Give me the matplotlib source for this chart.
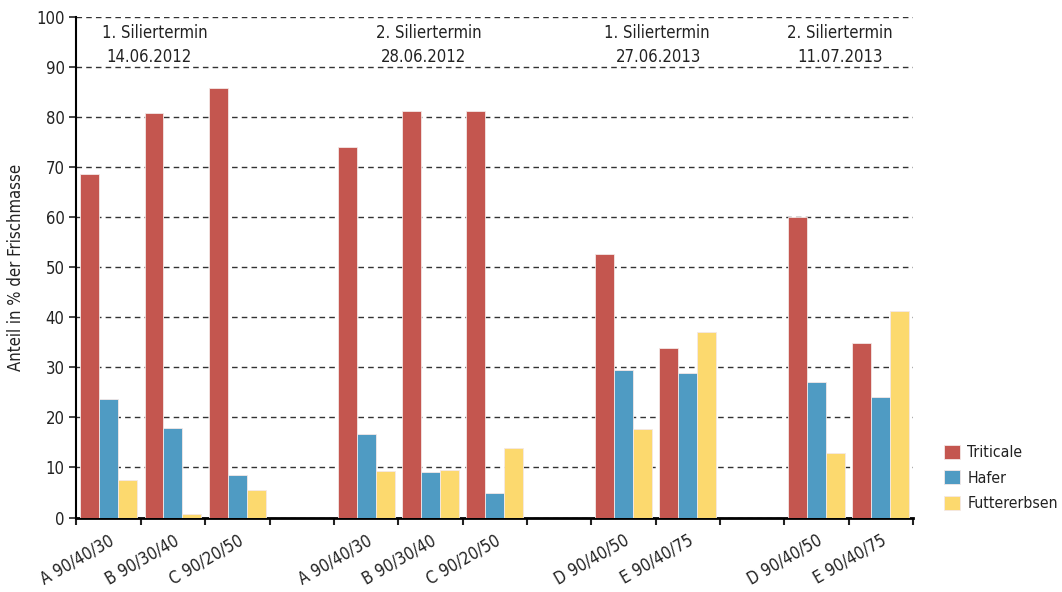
import matplotlib
matplotlib.use('Agg')
import matplotlib.pyplot as plt
import numpy as np

# slots: 3 + gap + 3 + gap + 2 + gap + 2
labels = ['A 90/40/30', 'B 90/30/40', 'C 90/20/50', '',
          'A 90/40/30', 'B 90/30/40', 'C 90/20/50', '',
          'D 90/40/50', 'E 90/40/75', '',
          'D 90/40/50', 'E 90/40/75']
triticale = [68.5, 80.8, 85.8, None, 73.9, 81.1, 81.1, None, 52.7, 33.9, None, 60.0, 34.8]
hafer = [23.6, 17.9, 8.4, None, 16.7, 9.1, 4.8, None, 29.5, 28.8, None, 27.0, 24.0]
erbsen = [7.4, 0.8, 5.5, None, 9.3, 9.4, 13.9, None, 17.6, 37.0, None, 12.8, 41.2]

termine = [('1. Siliertermin', '14.06.2012', 0.72, 0.62),
           ('2. Siliertermin', '28.06.2012', 4.97, 4.9),
           ('1. Siliertermin', '27.06.2013', 8.52, 8.55),
           ('2. Siliertermin', '11.07.2013', 11.36, 11.37)]

plt.rcParams['font.family'] = ['DejaVu Sans']
plt.rcParams['font.stretch'] = 'condensed'
fs = 12
txt = '#222222'

fig = plt.figure(figsize=(10.62, 5.92), dpi=100)
ax = fig.add_axes([0.072, 0.1258, 0.7877, 0.846])

x = np.arange(len(labels))
w = 0.295
series = [(triticale, '#C4564F', 'Triticale'),
          (hafer, '#4F9BC3', 'Hafer'),
          (erbsen, '#FCD96E', 'Futtererbsen')]
for k, (vals, col, name) in enumerate(series):
    xs = [xi + (k - 1) * w for xi, v in zip(x, vals) if v is not None]
    vs = [v for v in vals if v is not None]
    ax.bar(xs, vs, width=w, color=col, edgecolor='#f4e8e6', linewidth=0.6,
           label=name, zorder=3)

ax.set_xlim(-0.5, len(labels) - 0.5)
ax.set_ylim(0, 100)
ax.set_yticks(np.arange(0, 101, 10))
ax.yaxis.grid(True, linestyle=(0, (4, 3)), color='#333333', linewidth=1)
ax.set_axisbelow(True)

ax.set_xticks(x[[i for i, l in enumerate(labels) if l]])
ax.set_xticklabels([l for l in labels if l], rotation=30, ha='right',
                   rotation_mode='anchor', fontsize=fs, color=txt)
ax.set_xticks(np.arange(-0.5, len(labels)), minor=True)
ax.tick_params(axis='x', which='major', length=0, pad=10)
ax.tick_params(axis='x', which='minor', length=5, width=1.5, color='#222222')
ax.tick_params(axis='y', length=5, width=1.2, labelsize=fs, color='#222222',
               labelcolor=txt)

for s in ['top', 'right']:
    ax.spines[s].set_visible(False)
ax.spines['left'].set_linewidth(1.5)
ax.spines['bottom'].set_linewidth(2)

ax.set_ylabel('Anteil in % der Frischmasse', fontsize=fs, color=txt, labelpad=8)

for t1, t2, x1, x2 in termine:
    ax.text(x1, 96.7, t1, ha='center', va='center', fontsize=fs, color=txt)
    ax.text(x2, 91.9, t2, ha='center', va='center', fontsize=fs, color=txt)

ax.legend(loc='center left', bbox_to_anchor=(1.03, 0.079), frameon=False,
          fontsize=11.3, handlelength=1.0, handleheight=1.0, handletextpad=0.45,
          labelspacing=0.65, borderaxespad=0, labelcolor=txt)

fig.savefig('out.png', dpi=100)
